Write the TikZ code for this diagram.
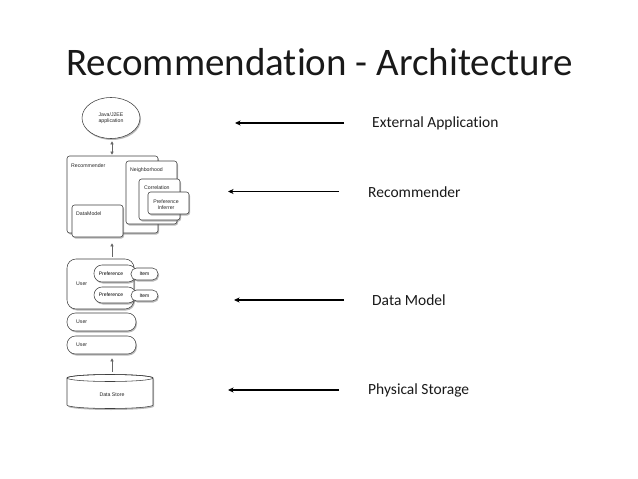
\documentclass[tikz,border=0pt]{standalone}
\usepackage{fontspec}
\setmainfont{Carlito}[Ligatures=NoCommon]
\newfontfamily\diagfont{Liberation Sans}
\usetikzlibrary{shapes.geometric,shadows,arrows.meta}
\begin{document}
\begin{tikzpicture}[x=1pt,y=-1pt,
  shad/.style={drop shadow={shadow xshift=1pt,shadow yshift=-1.5pt,fill=black!60,opacity=0.45}},
  box/.style={draw=black!75,line width=0.55pt,fill=white,rounded corners=2.5pt,inner sep=0pt,shad},
  pill/.style={draw=black!75,line width=0.55pt,fill=white,inner sep=0pt,shad,font=\diagfont\fontsize{5}{6}\selectfont},
  tiny/.style={font=\diagfont\fontsize{5.2}{6.2}\selectfont,inner sep=0pt,align=center,text=black!85},
  smalltip/.tip={Triangle[length=3pt,width=3pt]},
  conn/.style={draw=black!60,line width=0.45pt,-smalltip},
  bigarrow/.style={draw=black,line width=1.5pt,-{Stealth[length=5.5pt,width=5pt,inset=1.5pt]}},
  lab/.style={font=\fontsize{15.5}{18}\selectfont,inner sep=0pt,anchor=west,text=black!90}]
\useasboundingbox (0,0) rectangle (638,479);
% title
\node[font=\fontsize{39}{46}\selectfont,text=black!90,inner sep=0pt] (title) at (319.5,62) {Recommendation - Architecture};
% external application
\node[ellipse,draw=black!75,line width=0.55pt,fill=white,shad,minimum width=58,minimum height=41,inner sep=0pt] (app) at (111,118) {};
\node[tiny] (apptxt) at (111,118) {Java/J2EE\\application};
% recommender group
\node[box,minimum width=91,minimum height=77] (rec) at (112.5,194.5) {};
\node[tiny,anchor=west] (rectxt) at (71,166) {Recommender};
\node[box,minimum width=51,minimum height=63] (nbh) at (151.5,192.5) {};
\node[tiny,anchor=west] (nbhtxt) at (130,170) {Neighborhood};
\node[box,minimum width=41,minimum height=41] (cor) at (159.5,199.5) {};
\node[tiny,anchor=west] (cortxt) at (144,188) {Correlation};
\node[box,minimum width=41,minimum height=22] (pin) at (168.5,203) {};
\node[tiny] (pintxt) at (166,204.5) {Preference\\Inferrer};
\node[box,minimum width=51,minimum height=32] (dm) at (97.5,221) {};
\node[tiny,anchor=west] (dmtxt) at (76,214) {DataModel};
% data model group
\node[box,rounded corners=9pt,minimum width=67,minimum height=50] (u1) at (100.5,284) {};
\node[tiny,anchor=west] (u1txt) at (76,284) {User};
\node[pill,rounded corners=8pt,minimum width=42,minimum height=17] (p1) at (115,273.5) {\hspace*{-8pt}Preference};
\node[pill,rounded corners=5.5pt,minimum width=27,minimum height=12] (i1) at (144.5,274) {Item};
\node[pill,rounded corners=8pt,minimum width=42,minimum height=16] (p2) at (115,295) {\hspace*{-8pt}Preference};
\node[pill,rounded corners=5.5pt,minimum width=27,minimum height=11] (i2) at (144.5,295.5) {Item};
\node[box,rounded corners=8.5pt,minimum width=69,minimum height=18] (u2) at (101.5,322) {};
\node[tiny,anchor=west] (u2txt) at (76,322) {User};
\node[box,rounded corners=8.5pt,minimum width=69,minimum height=18] (u3) at (101.5,345) {};
\node[tiny,anchor=west] (u3txt) at (76,345) {User};
% data store
\node[minimum width=86,minimum height=32,inner sep=0pt] (ds) at (110,392) {};
\path[draw=black!75,line width=0.55pt,fill=white,shad]
  (67,378) -- (67,405) arc[start angle=180,end angle=0,x radius=43,y radius=3.5]
  -- (153,378) arc[start angle=0,end angle=-180,x radius=43,y radius=3.5] -- cycle;
\draw[black!75,line width=0.55pt] (110,378) ellipse[x radius=43,y radius=3.5];
\node[tiny] (dstxt) at (112,395) {Data Store};
% vertical connectors
\coordinate (ax) at (112,0);
\draw[conn,smalltip-smalltip,shorten <=2.5pt,shorten >=1pt] (ax |- app.south) -- (ax |- rec.north);
\draw[conn,shorten <=2pt,shorten >=6pt] (ax |- u1.north) -- (ax |- dm.south);
\draw[conn,shorten <=4pt,shorten >=4pt] (ax |- ds.north) -- (ax |- u3.south);
% right labels and arrows
\node[lab] (l1) at (372,123) {External Application};
\node[lab] (l2) at (368,192) {Recommender};
\node[lab] (l3) at (372,300) {Data Model};
\node[lab] (l4) at (368,390) {Physical Storage};
\coordinate (a1s) at (344,123); \coordinate (a1e) at (235,123);
\coordinate (a2s) at (339,191.5); \coordinate (a2e) at (228,191.5);
\coordinate (a3s) at (344,300); \coordinate (a3e) at (234,300);
\coordinate (a4s) at (339,390); \coordinate (a4e) at (228,390);
\draw[bigarrow] (a1s) -- (a1e);
\draw[bigarrow] (a2s) -- (a2e);
\draw[bigarrow] (a3s) -- (a3e);
\draw[bigarrow] (a4s) -- (a4e);
\end{tikzpicture}
\end{document}
